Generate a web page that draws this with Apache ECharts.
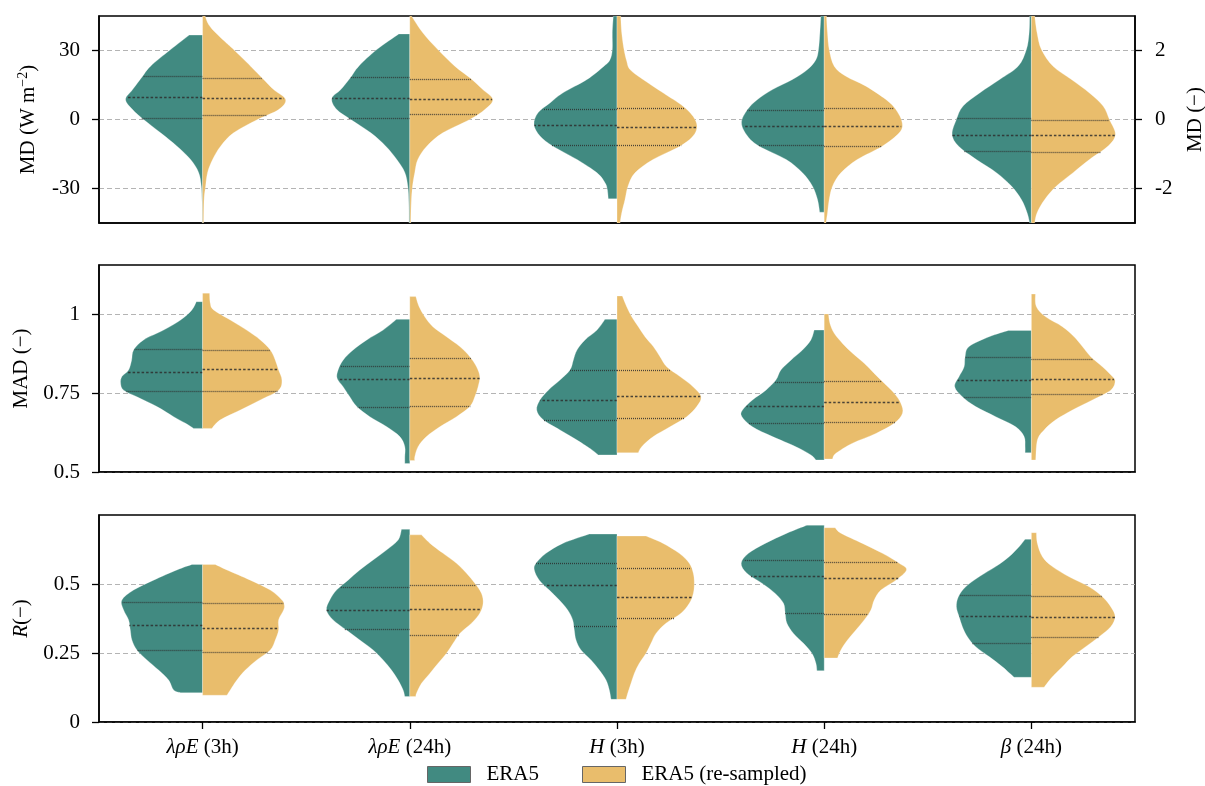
<!DOCTYPE html>
<html><head><meta charset="utf-8">
<script src="https://cdn.jsdelivr.net/npm/echarts@6/dist/echarts.min.js"></script>
<style>html,body{margin:0;padding:0;background:#fff}#c{width:1205px;height:786px}</style>
</head><body><div id="c"></div><script>
// ---------- categories & tick labels ----------
const categories = ['{i|λρE} (3h)', '{i|λρE} (24h)', '{i|H} (3h)', '{i|H} (24h)', '{i|β} (24h)'];
const mdTicks = [-30, 0, 30];       const mdLabels = ['-30', '0', '30'];
const mdRTicks = [-2, 0, 2];        const mdRLabels = ['-2', '0', '2'];
const madTicks = [0.5, 0.75, 1];    const madLabels = ['0.5', '0.75', '1'];
const rTicks = [0, 0.25, 0.5];      const rLabels = ['0', '0.25', '0.5'];

// ---------- violin half profiles: [value, relative density] from top to bottom ----------
// MD (W m-2), categories 0..3 ; β (24h) in MD (−) units
const mdEra5 = [
  [[36.7,13.3],[30.4,32],[23.2,52],[18.8,60],[13,70],[8.7,77],[4.3,70],[0,59],[-5.8,42],[-11.6,25.6],[-17.4,12],[-23,4],[-29,1.3],[-36,0.6],[-45,0.4]],
  [[37.2,11],[30.4,33],[23.2,51],[18.4,59],[13,69],[9.1,78],[4.3,73],[0,59],[-5.8,39],[-11.6,24],[-17.4,13],[-23,5],[-29,2],[-36,1],[-45,0.8]],
  [[45,3.7],[37.7,4.7],[30.4,4.7],[26,7],[23.2,13],[17.4,30],[11.6,54],[7.2,67],[2.9,79],[-2.2,83],[-7.2,77],[-11.6,64],[-17.4,40],[-23.2,20],[-27.5,12],[-30.4,9.7],[-34.5,8.7]],
  [[45,3.3],[37.7,4.3],[30.4,5.7],[26,8.3],[21.7,16.7],[17.4,31.7],[13,51.7],[8.7,66.7],[4.3,76.7],[-1.4,82.7],[-7.2,76.7],[-11.6,65],[-17.4,38],[-23.2,21.7],[-29,11.7],[-34.8,6.7],[-40.3,4.5]]
];
const mdResampled = [
  [[45,2.5],[41.3,6],[37.7,13],[34,22],[30.4,31],[23.2,48],[17.4,61],[13,71],[8.7,83],[4.3,76],[0,55],[-5.8,31],[-11.6,18],[-17.4,10],[-23,5],[-29,3],[-34.8,1.5],[-45,1]],
  [[45,1.7],[37.7,13],[30.4,28],[23.2,45],[17.8,61],[13,73],[8.7,83],[4.3,75],[0,60],[-5.8,33],[-11.6,17],[-17.4,8],[-23,5],[-29,2.7],[-36,1.5],[-45,1]],
  [[45,3.7],[37.7,4.7],[30.4,7],[25.4,9.7],[21.7,13],[17.4,26],[11.6,46],[5.8,66],[1.4,76],[-2.9,80],[-7.2,76],[-11.6,63],[-17.4,36],[-23.2,18],[-29,11],[-34.8,8],[-40.6,4.7],[-45,3]],
  [[45,2.3],[37.7,3.3],[30.4,5],[23.2,10],[18.8,21.7],[14.5,41.7],[8.7,61.7],[4.3,71.7],[-1.4,78],[-5.8,75],[-11.6,58],[-17.4,33],[-23.2,16.7],[-29,8.3],[-34.8,5],[-40.6,3.3],[-45,1.7]]
];
const betaEra5 = [
  [[3,1.7],[2.51,2.3],[2.03,5],[1.54,13.3],[1.16,31.7],[0.77,51.7],[0.39,68.3],[0,75],[-0.43,79.3],[-0.77,73],[-1.16,55],[-1.54,35],[-1.93,20],[-2.32,10],[-2.7,4.3],[-3,1.7]]
];
const betaResampled = [
  [[3,3.3],[2.51,5.7],[2.03,10],[1.54,21.7],[1.16,40],[0.77,58],[0.39,71.7],[0,78],[-0.43,84],[-0.77,76.7],[-1.16,58],[-1.54,41.7],[-1.93,25],[-2.32,13.3],[-2.7,5.7],[-3,3.3]]
];
const mdEra5Q = [[0.7,9.6,18.8],[0.7,9.3,18.4],[-11.2,-2.5,4.6],[-11.2,-2.9,4.3]];
const mdResampledQ = [[1.9,9.3,18.0],[2.2,9.0,17.8],[-11.2,-3.3,4.9],[-11.6,-2.9,5.2]];
const betaEra5Q = [[-0.90,-0.44,0.03]];
const betaResampledQ = [[-0.93,-0.46,0.0]];

// MAD (−)
const madEra5 = [
  [[1.039,6.3],[1.013,10.7],[0.981,22],[0.949,39],[0.918,59],[0.886,69],[0.854,71],[0.823,74],[0.802,80.7],[0.781,82],[0.759,79],[0.738,65.7],[0.707,45.7],[0.675,29],[0.654,17],[0.638,9]],
  [[0.983,13.3],[0.949,26.7],[0.918,43],[0.886,56.7],[0.854,66.7],[0.823,71.7],[0.797,72.7],[0.770,66.7],[0.738,60],[0.707,53],[0.675,40],[0.643,23],[0.612,10],[0.580,5],[0.548,5],[0.527,5]],
  [[0.983,12],[0.949,20],[0.918,32],[0.886,40],[0.854,43.7],[0.823,47],[0.791,57],[0.759,68.7],[0.728,77],[0.696,80.3],[0.665,73.7],[0.633,57],[0.601,40],[0.570,25],[0.554,18.7]],
  [[0.949,10],[0.918,13.3],[0.886,21.7],[0.854,33.3],[0.823,43.3],[0.791,48.3],[0.759,58.3],[0.728,71.7],[0.696,81.7],[0.675,82.3],[0.643,71.7],[0.612,51.7],[0.580,28.3],[0.554,13.3],[0.538,8.3]],
  [[0.948,23],[0.928,42.3],[0.897,62.3],[0.865,66.3],[0.833,67.3],[0.802,72.3],[0.770,76.7],[0.738,69],[0.707,55.7],[0.675,35.7],[0.643,15.7],[0.612,7.3],[0.580,6.3],[0.561,6.3]]
];
const madResampled = [
  [[1.066,7],[1.034,7.7],[1.013,11],[0.981,27.7],[0.949,44],[0.918,57.7],[0.886,67.7],[0.854,72.7],[0.823,76],[0.791,79.3],[0.759,76],[0.728,57.7],[0.696,37.7],[0.665,17.7],[0.638,9.3]],
  [[1.055,6],[1.023,9.3],[0.991,15],[0.960,23],[0.928,36.7],[0.897,50],[0.865,60],[0.833,66.7],[0.802,70],[0.770,68.3],[0.738,65],[0.707,60],[0.675,46.7],[0.643,30],[0.612,16.7],[0.580,8.3],[0.548,5],[0.536,5]],
  [[1.057,5.3],[1.023,9.7],[0.991,14.7],[0.960,21.3],[0.928,28],[0.897,36.3],[0.865,43],[0.833,49.7],[0.802,63],[0.770,76],[0.738,84],[0.707,79.7],[0.675,69.7],[0.643,53],[0.612,36.3],[0.580,24.7],[0.561,21.3]],
  [[1.0,4.3],[0.971,5.7],[0.939,10],[0.907,18.3],[0.876,28.3],[0.844,40],[0.812,50],[0.781,60],[0.749,70],[0.717,76.7],[0.686,78.3],[0.654,70],[0.622,51.7],[0.591,28.3],[0.559,11.7],[0.541,8.3]],
  [[1.063,4],[1.023,5],[0.991,14.3],[0.960,31],[0.928,42.7],[0.897,51],[0.865,59.3],[0.833,71],[0.802,81],[0.786,83.7],[0.759,79.3],[0.728,61],[0.696,41],[0.665,24.3],[0.633,12.7],[0.601,6],[0.538,4.3]]
];
const madEra5Q = [[0.755,0.816,0.888],[0.705,0.794,0.836],[0.664,0.727,0.822],[0.654,0.709,0.786],[0.736,0.791,0.863]];
const madResampledQ = [[0.757,0.827,0.887],[0.710,0.798,0.860],[0.671,0.741,0.824],[0.657,0.722,0.788],[0.746,0.793,0.859]];

// R (−)
const rEra5 = [
  [[0.571,10.7],[0.551,25.7],[0.514,49],[0.478,69],[0.442,80.7],[0.406,79],[0.370,74],[0.333,72.3],[0.297,70.7],[0.261,65.7],[0.225,55.7],[0.188,44],[0.152,34],[0.116,29],[0.106,22]],
  [[0.698,8.3],[0.659,11.7],[0.623,23.3],[0.587,36.7],[0.551,50],[0.514,61.7],[0.478,73.3],[0.442,80],[0.406,83.3],[0.370,76.7],[0.333,63.3],[0.297,50],[0.261,36.7],[0.225,26.7],[0.188,18.3],[0.152,11.7],[0.116,6.7],[0.092,5]],
  [[0.681,27.7],[0.647,54.3],[0.611,71],[0.575,81],[0.551,82.7],[0.514,77.7],[0.478,67.7],[0.442,57.7],[0.406,49.3],[0.370,44.3],[0.333,42.7],[0.297,41],[0.261,36],[0.225,26],[0.188,17.7],[0.152,11],[0.116,7.7],[0.082,6]],
  [[0.713,17.3],[0.684,37.3],[0.647,59],[0.611,75.7],[0.575,83],[0.539,77.3],[0.503,62.3],[0.466,49],[0.430,40.7],[0.394,39],[0.358,37.3],[0.321,30.7],[0.285,20.7],[0.249,12.3],[0.213,8.3],[0.186,7.3]],
  [[0.662,6.3],[0.635,12.3],[0.599,22.3],[0.563,35.7],[0.526,52.3],[0.490,65.7],[0.454,73],[0.418,75],[0.382,72.3],[0.345,69],[0.309,64],[0.273,55.7],[0.237,42.3],[0.200,29],[0.162,17.3]]
];
const rResampled = [
  [[0.571,12.7],[0.551,24.3],[0.514,47.7],[0.478,67.7],[0.442,79.3],[0.424,81.7],[0.406,81],[0.370,76],[0.333,76],[0.297,72.7],[0.261,67.7],[0.225,54.3],[0.188,42.7],[0.152,34.3],[0.116,27.7],[0.097,24.3]],
  [[0.678,11.7],[0.648,20],[0.611,33.3],[0.575,46.7],[0.539,56.7],[0.503,65],[0.466,71.7],[0.430,73.3],[0.394,70],[0.358,61.7],[0.321,50],[0.285,43.3],[0.249,36.7],[0.213,28.3],[0.176,20],[0.140,11.7],[0.104,6.7],[0.092,6]],
  [[0.674,29],[0.648,45.7],[0.611,62.3],[0.575,72.3],[0.539,76.3],[0.503,77.3],[0.466,76.3],[0.430,72.3],[0.394,64],[0.358,49],[0.321,39],[0.285,34],[0.249,29],[0.213,22.3],[0.176,17.3],[0.140,14],[0.104,10.7],[0.082,9]],
  [[0.704,11],[0.684,16.7],[0.647,38.3],[0.611,58.3],[0.575,75],[0.551,82.3],[0.514,71.7],[0.478,56.7],[0.442,50],[0.406,46.7],[0.370,40],[0.333,31.7],[0.297,23.3],[0.261,16.7],[0.232,13.3]],
  [[0.686,5],[0.647,6],[0.599,11],[0.563,21],[0.526,37.7],[0.490,57.7],[0.454,71],[0.418,79.3],[0.382,83.7],[0.345,79.3],[0.309,67.7],[0.273,54.3],[0.237,41],[0.200,31],[0.164,21],[0.126,12.7]]
];
const rEra5Q = [[0.260,0.353,0.434],[0.338,0.407,0.489],[0.349,0.495,0.576],[0.394,0.529,0.588],[0.287,0.383,0.460]];
const rResampledQ = [[0.253,0.342,0.432],[0.315,0.409,0.496],[0.377,0.452,0.559],[0.392,0.522,0.579],[0.308,0.382,0.455]];

// ---------- styling ----------
const TEAL = '#418a81', GOLD = '#e9bd6c';
const FONT = 'Liberation Serif';
const FS = 21;
const REF_BAND = 207.2; // density unit scale relative to category band width

function widthAt(prof, v) {
  for (let j = 0; j < prof.length - 1; j++) {
    const a = prof[j], b = prof[j + 1];
    if ((v <= a[0] && v >= b[0])) {
      const t = (a[0] - v) / (a[0] - b[0] || 1);
      return a[1] + (b[1] - a[1]) * t;
    }
  }
  return 0;
}

function makeRender(profiles, quarts, side, color) {
  return function (params, api) {
    const i = params.dataIndex;
    const prof = profiles[i], q = quarts[i];
    const cat = api.value(0);
    const k = api.size([1, 0])[0] / REF_BAND;
    const cx = api.coord([cat, prof[0][0]])[0];
    const pts = prof.map(p => [cx + side * p[1] * k, api.coord([cat, p[0]])[1]]);
    const yTop = pts[0][1], yBot = pts[pts.length - 1][1];
    let d = 'M' + cx + ' ' + yTop + ' L' + pts[0][0] + ' ' + pts[0][1];
    for (let j = 0; j < pts.length - 1; j++) {
      const p0 = pts[j - 1] || pts[j], p1 = pts[j], p2 = pts[j + 1], p3 = pts[j + 2] || pts[j + 1];
      const c1x = p1[0] + (p2[0] - p0[0]) / 6, c1y = p1[1] + (p2[1] - p0[1]) / 6;
      const c2x = p2[0] - (p3[0] - p1[0]) / 6, c2y = p2[1] - (p3[1] - p1[1]) / 6;
      d += ' C' + [c1x, c1y, c2x, c2y, p2[0], p2[1]].join(' ');
    }
    d += ' L' + cx + ' ' + yBot + ' Z';
    const children = [{
      type: 'path', shape: { pathData: d },
      style: { fill: color, stroke: 'rgba(255,255,255,0.35)', lineWidth: 0.8 }
    }];
    q.forEach((v, j) => {
      const w = widthAt(prof, v) * k;
      const y = Math.round(api.coord([cat, v])[1]) + 0.5;
      children.push({
        type: 'line', shape: { x1: cx, y1: y, x2: cx + side * w, y2: y },
        style: { stroke: '#2e2e2e', lineWidth: 1.3, lineDash: j === 1 ? [2.5, 2] : [1, 1], opacity: 0.85 }
      });
    });
    return { type: 'group', children };
  };
}

function tickFmt(ticks, labels) {
  return v => { const i = ticks.findIndex(t => Math.abs(t - v) < 1e-9); return i >= 0 ? labels[i] : ''; };
}

const grids = [
  { left: 99, width: 1036, top: 16, height: 207 },
  { left: 99, width: 1036, top: 265, height: 207 },
  { left: 99, width: 1036, top: 515, height: 207 }
].map(g => Object.assign(g, { show: true, borderColor: '#000', borderWidth: 1.5, backgroundColor: 'transparent', containLabel: false, outerBoundsMode: 'none' }));

const xAxes = [0, 1, 2].map(p => ({
  type: 'category', gridIndex: p, data: categories, boundaryGap: true,
  axisLine: { show: true, onZero: false, lineStyle: { color: '#000', width: 1.5 } },
  axisTick: { show: p === 2, alignWithLabel: true, length: 7, lineStyle: { color: '#000', width: 1.3 } },
  axisLabel: {
    show: p === 2, color: '#000', fontFamily: FONT, fontSize: FS, margin: 15,
    rich: { i: { fontFamily: FONT, fontSize: FS, fontStyle: 'italic', color: '#000' } }
  },
  splitLine: { show: false }
}));

function yAxis(p, min, max, ticks, labels, name, nameGap, position, split, margin, rich) {
  return {
    type: 'value', gridIndex: p, min, max, position,
    name, nameLocation: 'middle', nameGap, nameRotate: 90,
    nameTextStyle: { color: '#000', fontFamily: FONT, fontSize: FS, rich: rich || {} },
    axisLine: { show: true, lineStyle: { color: '#000', width: 1.5 } },
    axisTick: { show: true, length: 7, customValues: ticks, lineStyle: { color: '#000', width: 1.3 } },
    axisLabel: { color: '#000', fontFamily: FONT, fontSize: FS, margin, customValues: ticks, formatter: tickFmt(ticks, labels) },
    splitLine: { show: split, lineStyle: { color: '#b4b4b4', type: [5, 3], width: 1 } }
  };
}

const yAxes = [
  yAxis(0, -45, 45, mdTicks, mdLabels, '{t|MD (W m}{s|−2}{t|)}', 58, 'left', true, 19,
    { t: { fontFamily: FONT, fontSize: FS, color: '#000', lineHeight: 25 },
      s: { fontFamily: FONT, fontSize: 14, color: '#000', verticalAlign: 'top', lineHeight: 14 } }),
  yAxis(1, 0.5, 1.155, madTicks, madLabels, 'MAD (−)', 66, 'left', true, 19),
  yAxis(2, 0, 0.75, rTicks, rLabels, '{i|R}(−)', 66, 'left', true, 19,
    { i: { fontFamily: FONT, fontSize: FS, fontStyle: 'italic', color: '#000' } }),
  yAxis(0, -3, 3, mdRTicks, mdRLabels, 'MD (−)', 50, 'right', false, 20)
];

function violinSeries(name, color, xi, yi, profiles, quarts, side, cats) {
  return {
    type: 'custom', name, xAxisIndex: xi, yAxisIndex: yi, clip: true, silent: true,
    itemStyle: { color },
    renderItem: makeRender(profiles, quarts, side, color),
    data: cats.map((c, j) => [c, quarts[j][1]]),
    encode: { x: 0, y: 1 }
  };
}

const series = [
  violinSeries('ERA5', TEAL, 0, 0, mdEra5, mdEra5Q, -1, [0, 1, 2, 3]),
  violinSeries('ERA5 (re-sampled)', GOLD, 0, 0, mdResampled, mdResampledQ, 1, [0, 1, 2, 3]),
  violinSeries('ERA5', TEAL, 0, 3, betaEra5, betaEra5Q, -1, [4]),
  violinSeries('ERA5 (re-sampled)', GOLD, 0, 3, betaResampled, betaResampledQ, 1, [4]),
  violinSeries('ERA5', TEAL, 1, 1, madEra5, madEra5Q, -1, [0, 1, 2, 3, 4]),
  violinSeries('ERA5 (re-sampled)', GOLD, 1, 1, madResampled, madResampledQ, 1, [0, 1, 2, 3, 4]),
  violinSeries('ERA5', TEAL, 2, 2, rEra5, rEra5Q, -1, [0, 1, 2, 3, 4]),
  violinSeries('ERA5 (re-sampled)', GOLD, 2, 2, rResampled, rResampledQ, 1, [0, 1, 2, 3, 4])
];

const chart = echarts.init(document.getElementById('c'), null, { renderer: 'canvas' });
chart.setOption({
  animation: false,
  backgroundColor: '#fff',
  grid: grids,
  xAxis: xAxes,
  yAxis: yAxes,
  legend: {
    left: 427, top: 764, padding: 0, icon: 'rect', itemWidth: 43, itemHeight: 16, itemGap: 43,
    selectedMode: false,
    textStyle: { color: '#000', fontFamily: FONT, fontSize: FS, padding: [0, 0, 0, 11] },
    data: [
      { name: 'ERA5', itemStyle: { color: TEAL, borderColor: '#666', borderWidth: 1 } },
      { name: 'ERA5 (re-sampled)', itemStyle: { color: GOLD, borderColor: '#666', borderWidth: 1 } }
    ]
  },
  series
});
</script></body></html>
